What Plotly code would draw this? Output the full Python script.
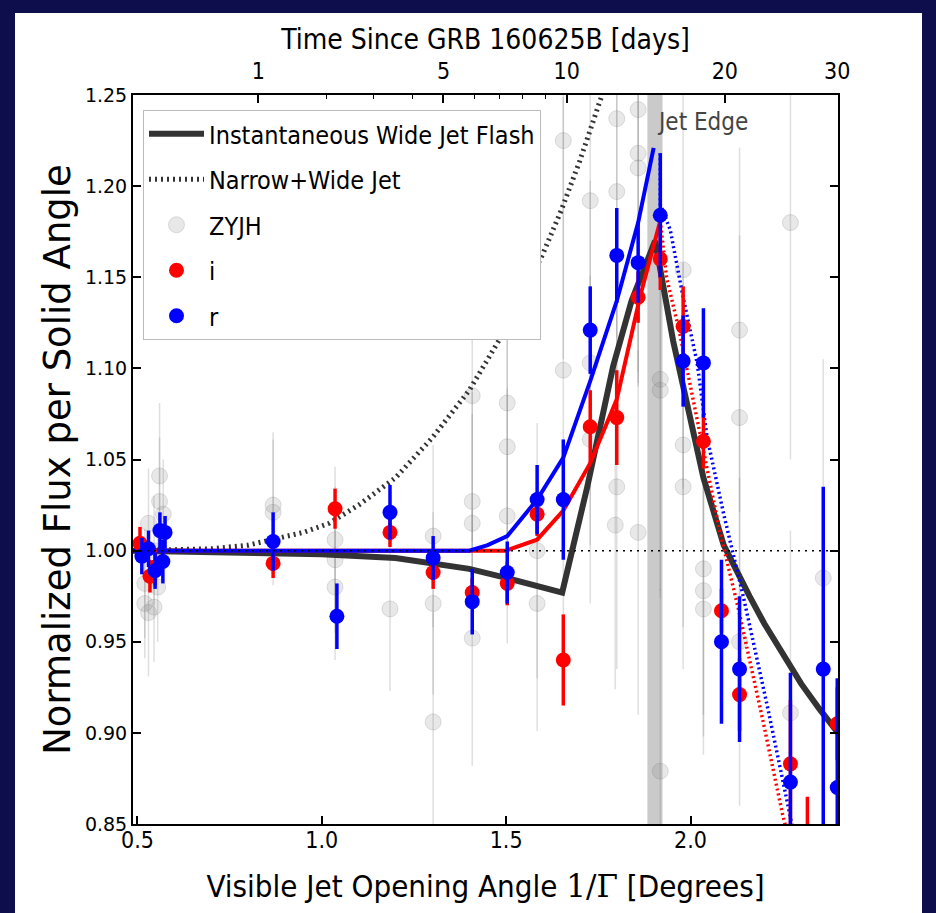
import plotly.graph_objects as go

# ---------------- data ----------------
# Instantaneous wide jet flash model (thick dark line)
flash_x = [0.488, 0.7, 1.0, 1.2, 1.3, 1.4, 1.5, 1.6, 1.652, 1.72, 1.79, 1.84, 1.904,
           1.953, 2.0, 2.035, 2.09, 2.13, 2.16, 2.2, 2.25, 2.3, 2.35, 2.40]
flash_y = [1.000, 0.9995, 0.998, 0.996, 0.993, 0.990, 0.985, 0.980, 0.977, 1.035, 1.101,
           1.137, 1.170, 1.115, 1.072, 1.040, 1.003, 0.986, 0.975, 0.960, 0.943, 0.927,
           0.913, 0.900]

# Narrow+Wide jet model (dotted)
nw_x = [0.488, 0.6, 0.7, 0.8, 0.87, 0.95, 1.02, 1.1, 1.2, 1.3, 1.4, 1.5, 1.6, 1.65, 1.7, 1.76, 1.78]
nw_y = [1.000, 1.0005, 1.001, 1.003, 1.006, 1.010, 1.015, 1.025, 1.040, 1.062, 1.088, 1.122,
        1.163, 1.187, 1.214, 1.250, 1.262]

# band model curves (rise, solid)
i_rise_x = [0.488, 1.0, 1.5, 1.584, 1.655, 1.728, 1.80, 1.864, 1.918]
i_rise_y = [1.000, 1.000, 1.000, 1.006, 1.022, 1.048, 1.083, 1.140, 1.181]
r_rise_x = [0.488, 1.0, 1.4, 1.45, 1.503, 1.584, 1.655, 1.728, 1.80, 1.858, 1.90]
r_rise_y = [1.000, 1.000, 1.000, 1.003, 1.008, 1.028, 1.051, 1.093, 1.137, 1.180, 1.221]

# band model curves (decline, dotted)
i_fall_x = [1.918, 1.935, 1.97, 2.005, 2.035, 2.08, 2.13, 2.195, 2.25, 2.275]
i_fall_y = [1.181, 1.150, 1.120, 1.085, 1.055, 1.010, 0.968, 0.908, 0.855, 0.835]
r_fall_x = [1.918, 1.918, 1.945, 1.98, 2.018, 2.045, 2.09, 2.143, 2.208, 2.262, 2.285]
r_fall_y = [1.218, 1.190, 1.176, 1.139, 1.103, 1.062, 1.020, 0.975, 0.915, 0.863, 0.840]

# i-band measurements
i_x = [0.507, 0.534, 0.548, 0.868, 1.036, 1.185, 1.302, 1.408, 1.503, 1.584, 1.655, 1.728,
       1.80, 1.858, 1.918, 1.980, 2.035, 2.084, 2.133, 2.271, 2.317, 2.398]
i_y = [1.004, 0.986, 0.991, 0.993, 1.023, 1.010, 0.988, 0.977, 0.982, 1.020, 0.940, 1.068,
       1.073, 1.139, 1.160, 1.123, 1.060, 0.967, 0.921, 0.883, 0.830, 0.905]
i_err = [0.009, 0.009, 0.010, 0.008, 0.011, 0.008, 0.009, 0.008, 0.012, 0.012, 0.025, 0.020,
         0.026, 0.014, 0.017, 0.022, 0.015, 0.012, 0.020, 0.035, 0.035, 0.020]

# r-band measurements
r_x = [0.512, 0.530, 0.548, 0.561, 0.575, 0.569, 0.868, 1.041, 1.185, 1.302, 1.408, 1.503,
       1.584, 1.655, 1.728, 1.80, 1.858, 1.918, 1.980, 2.035, 2.084, 2.133, 2.271, 2.360, 2.398]
r_y = [0.997, 1.001, 0.989, 1.011, 1.010, 0.994, 1.005, 0.964, 1.021, 0.996, 0.972, 0.988,
       1.028, 1.028, 1.121, 1.162, 1.158, 1.184, 1.104, 1.103, 0.950, 0.935, 0.873, 0.935, 0.870]
r_err = [0.010, 0.010, 0.010, 0.010, 0.009, 0.012, 0.016, 0.018, 0.015, 0.012, 0.018, 0.017,
         0.019, 0.033, 0.024, 0.026, 0.022, 0.034, 0.025, 0.030, 0.045, 0.040, 0.060, 0.100, 0.060]

# ZYJH measurements
z_x = [0.52, 0.52, 0.53, 0.545, 0.555, 0.56, 0.56, 0.57, 0.53, 0.545,
       0.868, 0.868, 1.036, 1.036, 1.036, 1.185, 1.302, 1.302, 1.302,
       1.408, 1.408, 1.408, 1.408, 1.503, 1.503, 1.503, 1.584, 1.584,
       1.655, 1.655, 1.728, 1.728, 1.728, 1.80, 1.80, 1.80, 1.796,
       1.858, 1.858, 1.858, 1.858, 1.918, 1.918, 1.918, 1.98, 1.98, 1.98,
       2.035, 2.035, 2.035, 2.133, 2.133, 2.133, 2.271, 2.271, 2.36]
z_y = [0.971, 0.982, 0.966, 0.969, 0.980, 1.041, 1.027, 1.020, 1.015, 1.000,
       1.025, 1.021, 1.006, 0.995, 0.980, 0.968, 1.008, 0.971, 0.906,
       1.085, 1.027, 1.015, 0.952, 1.081, 1.057, 1.019, 1.000, 0.971,
       1.225, 1.099, 1.192, 1.103, 1.061, 1.237, 1.197, 1.035, 1.014,
       1.242, 1.218, 1.210, 1.010, 1.094, 1.088, 0.879, 1.154, 1.058, 1.035,
       0.990, 0.978, 0.968, 1.121, 1.073, 0.950, 1.180, 0.911, 0.985]
z_err = [0.030, 0.030, 0.035, 0.030, 0.030, 0.040, 0.035, 0.030, 0.030, 0.030,
         0.040, 0.040, 0.040, 0.040, 0.040, 0.045, 0.050, 0.050, 0.060,
         0.080, 0.060, 0.060, 0.070, 0.090, 0.080, 0.070, 0.070, 0.070,
         0.120, 0.150, 0.120, 0.100, 0.090, 0.120, 0.110, 0.100, 0.090,
         0.150, 0.120, 0.120, 0.100, 0.120, 0.110, 0.100, 0.120, 0.100, 0.100,
         0.080, 0.080, 0.080, 0.100, 0.100, 0.090, 0.130, 0.100, 0.120]

ref_x = [0.488, 2.40]
ref_y = [1.0, 1.0]
jet_edge = [1.883, 1.924]

x_range = [0.488, 2.40]
y_range = [0.85, 1.25]
bottom_ticks = [0.5, 1.0, 1.5, 2.0]
y_ticks = [0.85, 0.90, 0.95, 1.00, 1.05, 1.10, 1.15, 1.20, 1.25]
top_days = ["1", "5", "10", "20", "30"]
top_angle = [0.828, 1.330, 1.664, 2.093, 2.398]
minor_angle = [1.013, 1.140, 1.246, 1.415, 1.482, 1.545, 1.607]  # 2,3,4,6,7,8,9 days

# ---------------- styling ----------------
NARROW = "DejaVu Sans Condensed, DejaVu Sans, sans-serif"
SANS = "DejaVu Sans, sans-serif"
NAVY = "#0f0e4c"
RED = "#ff0000"
BLUE = "#0000ff"
DARK = "#333333"

fig = go.Figure()

# ZYJH points
fig.add_trace(go.Scatter(
    x=z_x, y=z_y, mode="markers", name="ZYJH", legendgroup="g3", legendrank=3,
    marker=dict(size=16, color="rgba(128,128,128,0.18)",
                line=dict(width=1, color="rgba(110,110,110,0.2)")),
    error_y=dict(type="data", array=z_err, width=0, thickness=1.5,
                 color="rgba(128,128,128,0.25)"),
))

# narrow + wide jet (dotted)
fig.add_trace(go.Scatter(
    x=nw_x, y=nw_y, mode="lines", name="Narrow+Wide Jet", legendgroup="g2", legendrank=2,
    line=dict(color=DARK, width=5, dash="2px,4px"),
))

# reference line at 1 (top axis)
fig.add_trace(go.Scatter(
    x=ref_x, y=ref_y, mode="lines", xaxis="x2", showlegend=False, hoverinfo="skip",
    line=dict(color="black", width=1.5, dash="2px,5px"),
))

# instantaneous flash
fig.add_trace(go.Scatter(
    x=flash_x, y=flash_y, mode="lines", name="Instantaneous Wide Jet Flash",
    legendgroup="g1", legendrank=1,
    line=dict(color=DARK, width=6),
))

# band model curves
fig.add_trace(go.Scatter(x=i_rise_x, y=i_rise_y, mode="lines", showlegend=False,
                         line=dict(color=RED, width=4)))
fig.add_trace(go.Scatter(x=r_rise_x, y=r_rise_y, mode="lines", showlegend=False,
                         line=dict(color=BLUE, width=4)))
fig.add_trace(go.Scatter(x=i_fall_x, y=i_fall_y, mode="lines", showlegend=False,
                         line=dict(color=RED, width=3.5, dash="2px,3px")))
fig.add_trace(go.Scatter(x=r_fall_x, y=r_fall_y, mode="lines", showlegend=False,
                         line=dict(color=BLUE, width=3.5, dash="2px,3px")))

# i and r measurements
fig.add_trace(go.Scatter(
    x=i_x, y=i_y, mode="markers", name="i", legendgroup="g4", legendrank=4,
    marker=dict(size=15, color=RED),
    error_y=dict(type="data", array=i_err, width=0, thickness=3.5, color=RED),
))
fig.add_trace(go.Scatter(
    x=r_x, y=r_y, mode="markers", name="r", legendgroup="g5", legendrank=5,
    marker=dict(size=15, color=BLUE),
    error_y=dict(type="data", array=r_err, width=0, thickness=3.5, color=BLUE),
))

# page background (white panel inside navy frame)
W, H = 936, 913
ML, MR, MT, MB = 133, 98, 95, 89
pw, ph = W - ML - MR, H - MT - MB
def px_x(p):
    return (p - ML) / pw
def px_y(p):
    return (H - MB - p) / ph

fig.add_shape(type="rect", xref="paper", yref="paper", layer="below",
              x0=px_x(15), x1=px_x(922), y0=px_y(915), y1=px_y(13),
              fillcolor="white", line=dict(width=0))
# jet edge band
fig.add_shape(type="rect", xref="x", yref="paper", layer="below",
              x0=jet_edge[0], x1=jet_edge[1], y0=0, y1=1,
              fillcolor="rgba(150,150,150,0.5)", line=dict(width=0))

fig.add_annotation(x=jet_edge[1] - 0.02, y=px_y(122), xref="x", yref="paper",
                   text="Jet Edge", showarrow=False, xanchor="left", yanchor="middle",
                   font=dict(family=NARROW, size=24, color="#444444"))

fig.update_layout(
    template="none",
    width=W, height=H,
    margin=dict(l=ML, r=MR, t=MT, b=MB, pad=0),
    paper_bgcolor=NAVY,
    plot_bgcolor="white",
    showlegend=True,
    legend=dict(
        x=px_x(143), y=px_y(110), xanchor="left", yanchor="top",
        bgcolor="white", bordercolor="#bbbbbb", borderwidth=1,
        font=dict(family=NARROW, size=25, color="black"),
        tracegroupgap=10, traceorder="grouped", itemwidth=55,
    ),
    xaxis=dict(
        range=x_range, tickvals=bottom_ticks, tickformat=".1f",
        ticks="inside", ticklen=8, tickwidth=1.5, tickcolor="black",
        showline=True, linewidth=2, linecolor="black", mirror=True,
        showgrid=False, zeroline=False, automargin=False,
        ticklabelstandoff=-6,
        tickfont=dict(family=NARROW, size=23, color="black"),
        title=dict(text="Visible Jet Opening Angle <span style='font-family:DejaVu Serif'>1/Γ</span> [Degrees]",
                   font=dict(family=NARROW, size=31, color="black"), standoff=24),
    ),
    xaxis2=dict(
        range=x_range, overlaying="x", side="top", anchor="y",
        tickvals=top_angle, ticktext=top_days,
        ticks="inside", ticklen=8, tickwidth=1.5, tickcolor="black",
        minor=dict(tickvals=minor_angle, ticks="inside", ticklen=4, tickwidth=1.2,
                   tickcolor="black"),
        showline=False, showgrid=False, zeroline=False, automargin=False,
        ticklabelstandoff=10,
        tickfont=dict(family=NARROW, size=23, color="black"),
        title=dict(text="Time Since GRB 160625B [days]",
                   font=dict(family=NARROW, size=28, color="black"), standoff=0),
    ),
    yaxis=dict(
        range=y_range, tickvals=y_ticks, tickformat=".2f",
        ticks="inside", ticklen=8, tickwidth=1.5, tickcolor="black",
        showline=True, linewidth=2, linecolor="black", mirror="ticks",
        showgrid=False, zeroline=False, automargin=False,
        tickfont=dict(family=SANS, size=19, color="black"),
        title=dict(text="Normalized Flux per Solid Angle",
                   font=dict(family=SANS, size=37, color="black"), standoff=3),
    ),
)

fig.write_html("out.html")
